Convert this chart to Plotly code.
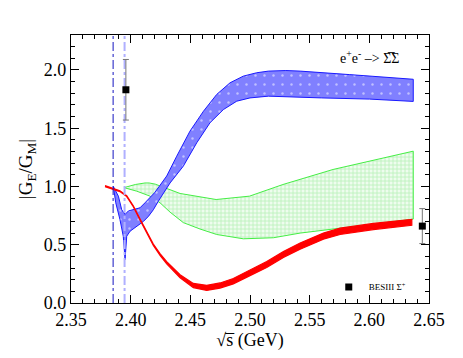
import plotly.graph_objects as go

# ---- data ----
thr_sigma0 = 2.3853   # Sigma0 Sigma0bar threshold
thr_sigmam = 2.3949   # Sigma- Sigma-bar threshold
y_min, y_max = 0.0, 2.3

# blue band (upper / lower edges)
blue_up_x = [2.3855, 2.3897, 2.3925, 2.3953, 2.3981, 2.4022, 2.4078, 2.412, 2.416, 2.42, 2.4246,
             2.4302, 2.4386, 2.4497, 2.461, 2.4721, 2.4833, 2.4944, 2.5056, 2.5154, 2.53, 2.542,
             2.5836, 2.6368]
blue_up_y = [1.0, 0.917, 0.80, 0.76, 0.79, 0.80, 0.817, 0.86, 0.90, 0.946, 1.01,
             1.09, 1.26, 1.475, 1.646, 1.79, 1.89, 1.947, 1.976, 1.99, 1.995, 1.99,
             1.96, 1.92]
blue_lo_x = [2.3855, 2.3875, 2.391, 2.3938, 2.3953, 2.3967, 2.3995, 2.405, 2.4107, 2.415, 2.419,
             2.4232, 2.4274, 2.433, 2.4441, 2.4554, 2.4665, 2.4777, 2.4889, 2.5, 2.5154, 2.54,
             2.56, 2.60, 2.6368]
blue_lo_y = [1.0, 0.86, 0.717, 0.573, 0.373, 0.573, 0.616, 0.66, 0.70, 0.745, 0.80,
             0.874, 0.946, 1.03, 1.174, 1.375, 1.547, 1.66, 1.732, 1.76, 1.775, 1.765,
             1.76, 1.75, 1.73]

# green band
green_up_x = [2.3944, 2.4039, 2.412, 2.4155, 2.4206, 2.4289, 2.4414, 2.4716, 2.4996, 2.5276,
              2.5696, 2.6368]
green_up_y = [0.99, 1.017, 1.03, 1.03, 1.02, 0.99, 0.94, 0.888, 0.917, 1.017,
              1.146, 1.303]
green_lo_x = [2.3944, 2.405, 2.4155, 2.4246, 2.433, 2.4441, 2.4581, 2.4721, 2.4944, 2.5196,
              2.542, 2.5755, 2.6056, 2.6368]
green_lo_y = [0.99, 0.96, 0.92, 0.86, 0.78, 0.69, 0.635, 0.588, 0.551, 0.56,
              0.60, 0.645, 0.68, 0.72]

# red band
red_x = [2.3785, 2.3855, 2.391, 2.3967, 2.4022, 2.4078, 2.4135, 2.419, 2.4246, 2.4302, 2.4414,
         2.4525, 2.4637, 2.4749, 2.486, 2.5, 2.514, 2.528, 2.542, 2.5615, 2.5755, 2.6034, 2.6356]
red_hi = [1.007, 0.984, 0.964, 0.921, 0.834, 0.722, 0.605, 0.506, 0.423, 0.354, 0.243,
          0.168, 0.152, 0.172, 0.21, 0.285, 0.356, 0.442, 0.515, 0.60, 0.642, 0.683, 0.718]
red_lo = [0.999, 0.976, 0.956, 0.913, 0.826, 0.712, 0.595, 0.494, 0.409, 0.336, 0.217,
          0.132, 0.108, 0.128, 0.164, 0.235, 0.304, 0.39, 0.461, 0.548, 0.588, 0.63, 0.667]

# BESIII data
besiii_x = [2.3960, 2.6444]
besiii_y = [1.83, 0.66]
besiii_err = [0.26, 0.15]

x_ticks = [2.35, 2.40, 2.45, 2.50, 2.55, 2.60, 2.65]
y_ticks = [0.0, 0.5, 1.0, 1.5, 2.0]

SERIF = "Times New Roman, Liberation Serif, serif"

fig = go.Figure()

# green band
fig.add_trace(go.Scatter(
    x=green_up_x + green_lo_x[::-1], y=green_up_y + green_lo_y[::-1],
    mode="lines", fill="toself", line=dict(color="#44ee44", width=1),
    fillcolor="#d4f7d4",
    fillpattern=dict(shape="+", fgcolor="#8be88b", bgcolor="#eefcee", size=4, solidity=0.4),
    showlegend=False, hoverinfo="skip"))

# blue band
fig.add_trace(go.Scatter(
    x=blue_up_x + blue_lo_x[::-1], y=blue_up_y + blue_lo_y[::-1],
    mode="lines", fill="toself", line=dict(color="#1a1aff", width=1),
    fillcolor="#8080ff",
    fillpattern=dict(shape=".", fgcolor="#ffffff", bgcolor="#8080ff", size=9, solidity=0.06),
    showlegend=False, hoverinfo="skip"))

# red band
fig.add_trace(go.Scatter(
    x=red_x + red_x[::-1], y=red_hi + red_lo[::-1],
    mode="lines", fill="toself", line=dict(color="#ff0000", width=1.2),
    fillcolor="#ff0000", showlegend=False, hoverinfo="skip"))

# threshold lines
fig.add_trace(go.Scatter(
    x=[thr_sigma0, thr_sigma0], y=[y_min, y_max], mode="lines",
    line=dict(color="#1515c0", width=1, dash="dashdot"), showlegend=False, hoverinfo="skip"))
fig.add_trace(go.Scatter(
    x=[thr_sigmam, thr_sigmam], y=[y_min, y_max], mode="lines",
    line=dict(color="#b0b0ff", width=2, dash="dashdot"), showlegend=False, hoverinfo="skip"))

# BESIII points
fig.add_trace(go.Scatter(
    x=besiii_x, y=besiii_y, mode="markers",
    marker=dict(symbol="square", size=7, color="black"),
    error_y=dict(type="data", array=besiii_err, color="#777777", thickness=1, width=3),
    name="BESIII Σ<sup>+</sup>", showlegend=True))

axis_common = dict(
    showline=True, linecolor="black", linewidth=1.2, mirror="allticks",
    ticks="inside", ticklen=8, tickcolor="black", tickwidth=1,
    showgrid=False, zeroline=False,
    tickfont=dict(family=SERIF, size=18, color="black"),
)

fig.update_xaxes(
    range=[2.35, 2.65], tickvals=x_ticks, ticktext=[f"{v:.2f}" for v in x_ticks],
    minor=dict(dtick=0.01, ticks="inside", ticklen=4, tickcolor="black", showgrid=False),
    title=dict(text="√s̅ (GeV)", font=dict(family=SERIF, size=18, color="black"), standoff=2),
    **axis_common)
fig.update_yaxes(
    range=[y_min, y_max], tickvals=y_ticks, ticktext=[f"{v:.1f}" for v in y_ticks],
    minor=dict(dtick=0.1, ticks="inside", ticklen=4, tickcolor="black", showgrid=False),
    title=dict(text="|G<sub>E</sub>/G<sub>M</sub>|", font=dict(family=SERIF, size=19, color="black"),
               standoff=6),
    **axis_common)

fig.add_annotation(
    x=0.745, y=0.918, xref="paper", yref="paper", xanchor="left", yanchor="middle",
    showarrow=False,
    text="e<sup>+</sup>e<sup>-</sup> –> Σ̅Σ", font=dict(family=SERIF, size=14, color="black"))

fig.update_layout(
    width=463, height=358,
    margin=dict(l=71, r=34, t=35, b=55),
    paper_bgcolor="white", plot_bgcolor="white",
    legend=dict(x=0.72, y=0.06, xanchor="left", yanchor="middle",
                bgcolor="rgba(0,0,0,0)", font=dict(family=SERIF, size=9, color="black")),
    font=dict(family=SERIF, color="black"),
)

fig.write_html("out.html", config={"displayModeBar": False},
               post_script="document.body.style.margin='0px';document.body.style.overflow='hidden';")
